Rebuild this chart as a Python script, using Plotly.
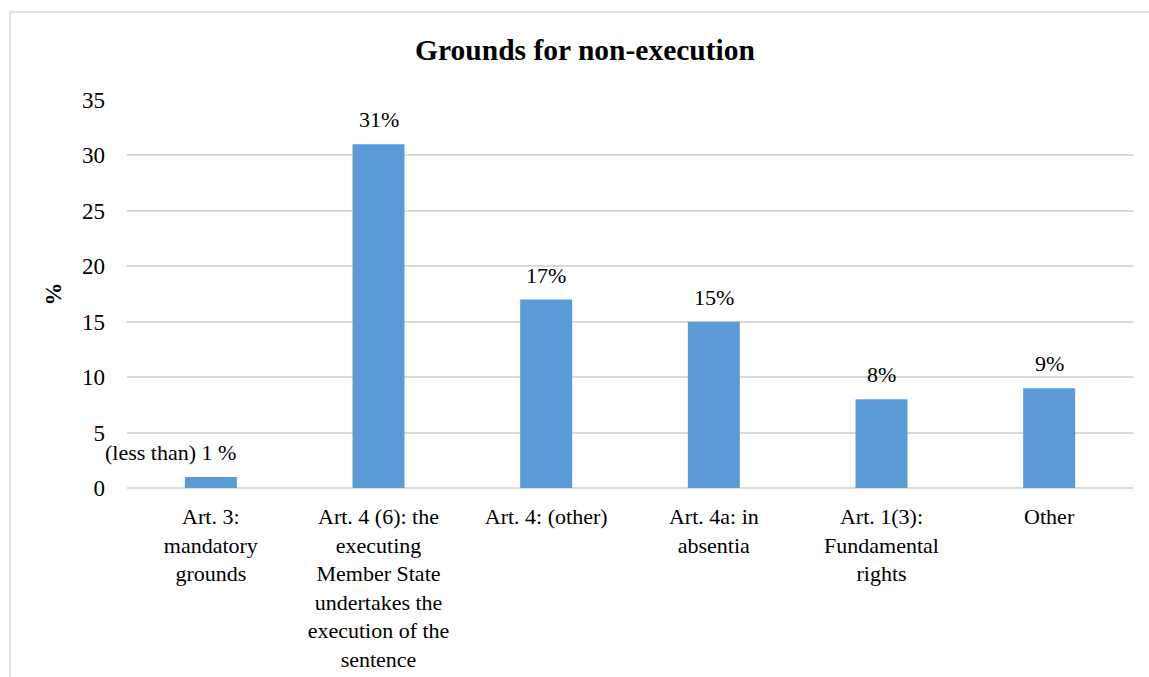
import plotly.graph_objects as go

categories = [
    "Art. 3:<br>mandatory<br>grounds",
    "Art. 4 (6): the<br>executing<br>Member State<br>undertakes the<br>execution of the<br>sentence",
    "Art. 4: (other)",
    "Art. 4a: in<br>absentia",
    "Art. 1(3):<br>Fundamental<br>rights",
    "Other",
]
values = [1, 31, 17, 15, 8, 9]
value_labels = ["(less than) 1 %", "31%", "17%", "15%", "8%", "9%"]
label_xshift = [-40, 0, 0, 0, 0, 0]
y_ticks = [0, 5, 10, 15, 20, 25, 30, 35]

FONT = "Times New Roman"

fig = go.Figure()
fig.add_trace(go.Bar(
    x=categories, y=values,
    marker=dict(color="#5b9bd5", line=dict(width=0)),
    width=0.31,
    hoverinfo="skip",
))

for c, v, t, dx in zip(categories, values, value_labels, label_xshift):
    fig.add_annotation(
        x=c, y=v, text=t, showarrow=False,
        yanchor="bottom", yshift=10, xshift=dx,
        font=dict(family=FONT, size=22, color="#000000"),
    )

W, H = 1149, 677
ml, mr, mt, mb = 127, 16, 100, 189
pw, ph = W - ml - mr, H - mt - mb

def px_to_paper_x(px):
    return (px - ml) / pw

def px_to_paper_y(py):
    return (H - mb - py) / ph

fig.add_shape(
    type="rect", xref="paper", yref="paper",
    x0=px_to_paper_x(10), x1=px_to_paper_x(1200),
    y0=px_to_paper_y(720), y1=px_to_paper_y(12),
    line=dict(color="#d9d9d9", width=1.5), fillcolor="rgba(0,0,0,0)",
    layer="below",
)

fig.update_layout(
    width=W, height=H,
    margin=dict(l=ml, r=mr, t=mt, b=mb, autoexpand=False),
    paper_bgcolor="white", plot_bgcolor="white",
    showlegend=False,
    title=dict(
        text="<b>Grounds for non-execution</b>",
        x=585 / W, xanchor="center",
        y=1 - 50 / H, yanchor="middle",
        font=dict(family=FONT, size=29.5, color="#000000"),
    ),
    font=dict(family=FONT, size=22, color="#000000"),
    xaxis=dict(
        range=[-0.5, 5.5],
        showline=False, showgrid=False, ticks="",
        tickfont=dict(family=FONT, size=22, color="#000000"),
        tickangle=0,
        ticklabelstandoff=13,
    ),
    yaxis=dict(
        range=[0, 35], tickvals=y_ticks,
        showgrid=True, gridcolor="#d9d9d9", gridwidth=1.5,
        zeroline=True, zerolinecolor="#d9d9d9", zerolinewidth=1.5,
        showline=False, ticks="",
        tickfont=dict(family=FONT, size=23, color="#000000"),
        ticklabelstandoff=21,
        title=dict(text="<b>%</b>", font=dict(family=FONT, size=23, color="#000000"), standoff=13),
    ),
)

fig.write_html(
    "out.html",
    config={"displayModeBar": False},
    post_script="document.body.style.margin='0';document.body.style.overflow='hidden';",
)
